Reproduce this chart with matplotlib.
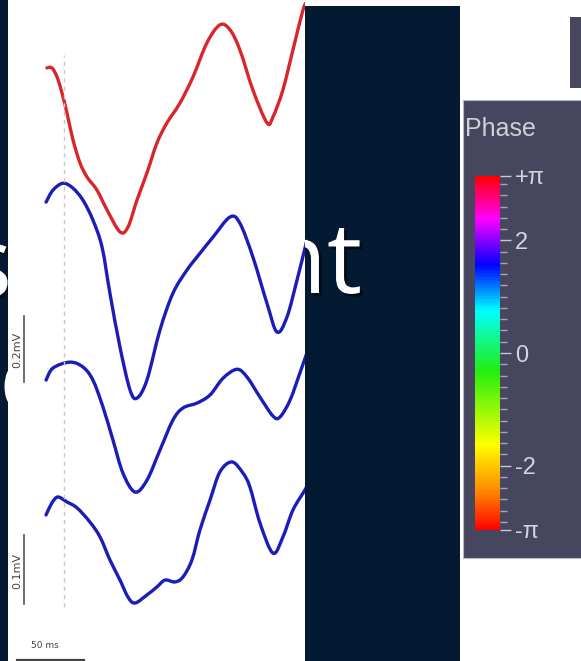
import numpy as np
import matplotlib
matplotlib.use("Agg")
import matplotlib.pyplot as plt
import matplotlib.patheffects as pe
from matplotlib.patches import Rectangle, PathPatch
from matplotlib.path import Path
from matplotlib.colors import LinearSegmentedColormap, Normalize
from matplotlib.cm import ScalarMappable
from matplotlib.ticker import MultipleLocator

# --- traces (time in ms after stimulus, amplitude in mV relative to baseline) ---
red_t = [-12.7, -9.0, -5.2, -1.5, 2.2, 6.7, 11.9, 17.2, 24.6, 32.1, 41.8, 47.8, 54.5, 61.9,
         69.4, 76.9, 86.6, 96.3, 106.7, 116.4, 123.9, 131.3, 141.0, 151.5, 156.0, 163.4,
         170.9, 178.4, 181.3]
red_v = [0, 0, -0.029, -0.081, -0.145, -0.232, -0.306, -0.352, -0.394, -0.458, -0.529,
         -0.513, -0.426, -0.339, -0.242, -0.177, -0.113, -0.029, 0.081, 0.139, 0.123,
         0.058, -0.071, -0.177, -0.158, -0.071, 0.058, 0.187, 0.213]

blue1_t = [-13.4, -8.2, -0.7, 6.7, 14.2, 21.6, 28.4, 34.3, 41.8, 49.3, 54.5, 61.9, 71.6,
           81.3, 91.8, 101.5, 111.2, 123.9, 131.3, 141.0, 151.5, 159.0, 166.4, 173.9,
           179.9, 181.3]
blue1_v = [0, 0.039, 0.061, 0.045, 0.006, -0.058, -0.145, -0.294, -0.468, -0.606, -0.632,
           -0.574, -0.413, -0.294, -0.219, -0.165, -0.113, -0.048, -0.068, -0.177, -0.326,
           -0.419, -0.371, -0.252, -0.148, -0.123]

blue2_t = [-13.4, -8.2, 4.5, 14.2, 21.6, 29.1, 36.6, 44.0, 53.0, 61.9, 71.6, 81.3, 88.8,
           99.3, 109.0, 118.7, 129.1, 136.6, 146.3, 156.0, 161.2, 168.7, 176.1, 181.3]
blue2_v = [0, 0.039, 0.058, 0.042, 0, -0.087, -0.194, -0.300, -0.361, -0.323, -0.226,
           -0.129, -0.090, -0.074, -0.048, 0.006, 0.035, 0.010, -0.055, -0.116, -0.119,
           -0.065, 0.023, 0.087]

blue3_t = [-13.4, -9.0, -4.5, 2.2, 9.7, 19.4, 26.9, 34.3, 41.8, 47.8, 53.0, 61.9, 69.4,
           75.4, 82.8, 88.8, 95.5, 101.5, 109.0, 116.4, 125.4, 133.6, 138.8, 146.3, 156.0,
           163.4, 170.9, 179.9, 181.3]
blue3_v = [0, 0.039, 0.058, 0.042, 0.023, -0.023, -0.071, -0.145, -0.210, -0.265, -0.284,
           -0.258, -0.232, -0.210, -0.216, -0.200, -0.145, -0.048, 0.048, 0.139, 0.171,
           0.135, 0.090, -0.026, -0.123, -0.071, 0.016, 0.081, 0.097]

# vertical offsets of each trace in the stacked display (mV)
offsets = [-0.219, -0.652, -1.226, -1.661]
trace_colors = ["#d8262a", "#1c1cb8", "#1c1cb8", "#1c1cb8"]

# colour scale
phase_ticks = [-np.pi, -2, 0, 2, np.pi]
phase_labels = ["-π", "-2", "0", "2", "+π"]
phase_pos = [0.0, 0.1, 0.24, 0.45, 0.62, 0.75, 0.88, 1.0]
phase_cols = ["#ff0000", "#ff8000", "#ffff00", "#22ee10", "#00ffff", "#0000ff", "#ff00ff", "#ff0000"]

W, H = 581, 661
NAVY = "#041932"
SLATE = "#46475f"


def px_rect(x0, y0, x1, y1):
    return [x0 / W, 1 - y1 / H, (x1 - x0) / W, (y1 - y0) / H]


def smooth_path(x, y):
    # cubic bezier segments through every point (catmull-rom tangents)
    p = np.column_stack([x, y])
    verts = [p[0]]
    codes = [Path.MOVETO]
    n = len(p)
    for i in range(n - 1):
        p0 = p[max(i - 1, 0)]
        p3 = p[min(i + 2, n - 1)]
        c1 = p[i] + (p[i + 1] - p0) / 6
        c2 = p[i + 1] - (p3 - p[i]) / 6
        verts += [c1, c2, p[i + 1]]
        codes += [Path.CURVE4] * 3
    return Path(verts, codes)


fig = plt.figure(figsize=(W / 100, H / 100), dpi=100)
fig.patch.set_facecolor("white")

# background blocks
fig.patches.append(Rectangle((0, 0), 8 / W, 1, transform=fig.transFigure,
                             facecolor=NAVY, edgecolor="none", zorder=-3))
r = px_rect(305, 6, 460, 661)
fig.patches.append(Rectangle((r[0], r[1]), r[2], r[3], transform=fig.transFigure,
                             facecolor=NAVY, edgecolor="none", zorder=-3))
r = px_rect(570, 17, 581, 88)
fig.patches.append(Rectangle((r[0], r[1]), r[2], r[3], transform=fig.transFigure,
                             facecolor=SLATE, edgecolor="none", zorder=-3))
r = px_rect(463, 100, 583, 558)
fig.patches.append(Rectangle((r[0], r[1]), r[2], r[3], transform=fig.transFigure,
                             facecolor=SLATE, edgecolor="#b8b8c4", linewidth=0.8, zorder=-3))

# slide title peeking out behind the panels
shadow = [pe.withSimplePatchShadow(offset=(2, -2), shadow_rgbFace="black", alpha=0.5)]
big = dict(color="white", fontsize=71, family=["Open Sans", "DejaVu Sans"],
           va="baseline", zorder=-1, path_effects=shadow)
fig.text(12 / W, 1 - 297 / H, "s", ha="right", **big)
fig.text(362 / W, 1 - 293 / H, "nt", ha="right", **big)
fig.text(-1 / W, 1 - 413 / H, "o", ha="left", **big)

# waveform panel (drawn above the title text)
ax = fig.add_axes(px_rect(8, 0, 305, 661))
ax.set_zorder(2)
ax.set_facecolor("white")
ax.set_xlim(-41.8, 179.9)
ax.set_ylim(-2.132, 0)
ax.set_xticks([])
ax.set_yticks([])
for s in ax.spines.values():
    s.set_visible(False)

ax.plot([0, 0], [-1.958, -0.177], color="#c8c8c8", lw=1, ls=(0, (3, 3)))

traces = [(red_t, red_v), (blue1_t, blue1_v), (blue2_t, blue2_v), (blue3_t, blue3_v)]
for (t, v), off, c in zip(traces, offsets, trace_colors):
    path = smooth_path(t, np.array(v) + off)
    ax.add_patch(PathPatch(path, facecolor="none", edgecolor=c, lw=2.4,
                           capstyle="round", joinstyle="round"))

# scale bars
ax.plot([-29.9, -29.9], [-1.232, -1.019], color="#555555", lw=1.2)
ax.plot([-29.9, -29.9], [-1.948, -1.726], color="#555555", lw=1.2)
ax.plot([-35, 15], [-2.128, -2.128], color="#444444", lw=1.6)
ax.text(-35.0, -1.128, "0.2mV", rotation=90, ha="center", va="center",
        fontsize=8, color="#444444")
ax.text(-35.0, -1.842, "0.1mV", rotation=90, ha="center", va="center",
        fontsize=8, color="#444444")
ax.text(-14.2, -2.081, "50 ms", ha="center", va="center", fontsize=6.5,
        color="#444444")

# phase colour bar
cmap = LinearSegmentedColormap.from_list("phase", list(zip(phase_pos, phase_cols)))
sm = ScalarMappable(norm=Normalize(-np.pi, np.pi), cmap=cmap)
cax = fig.add_axes(px_rect(475, 176, 500, 530))
cb = fig.colorbar(sm, cax=cax)
cb.outline.set_visible(False)
cb.set_ticks(phase_ticks)
cb.set_ticklabels(phase_labels)
cax.yaxis.set_minor_locator(MultipleLocator(0.2))
cax.tick_params(which="major", length=8, width=1, colors="#c8c8d2", labelsize=17,
                pad=3)
cax.tick_params(which="minor", length=5, width=1, colors="#a8a8b4")
for lab in cax.get_yticklabels():
    lab.set_family(["Liberation Sans", "DejaVu Sans"])
    lab.set_color("#d4d4dc")

fig.text(465 / W, 1 - 136 / H, "Phase", fontsize=18, color="#d0d0d8",
         family=["Liberation Sans", "DejaVu Sans"], va="baseline", ha="left")

plt.savefig("out.png", dpi=100)
